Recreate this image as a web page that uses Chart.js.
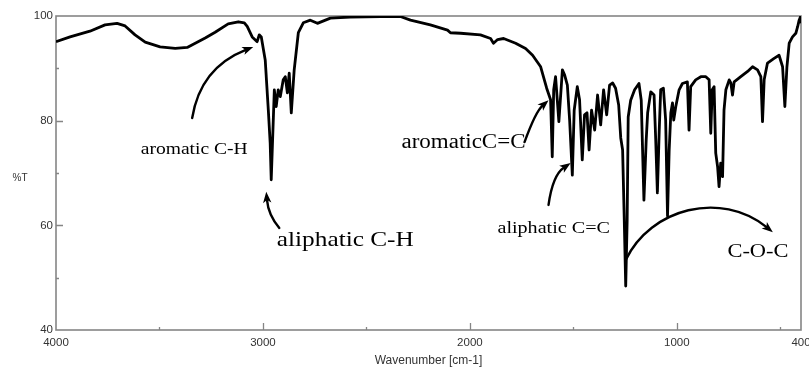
<!DOCTYPE html>
<html><head><meta charset="utf-8">
<script src="https://cdn.jsdelivr.net/npm/chart.js@4/dist/chart.umd.min.js"></script>
<style>html,body{margin:0;padding:0;background:#fff;overflow:hidden;}canvas{display:block;}</style>
</head><body>
<canvas id="c" width="809" height="371"></canvas>
<script>
// ---- data ----
const wavenumbers = [4000,3932,3836,3763,3705,3666,3618,3569,3497,3424,
 3366,3318,3279,3231,3168,3119,3090,3076,3052,3028,
 3018,3008,2989,2974,2965,2960,2955,2945,2936,2926,
 2916,2902,2892,2882,2873,2863,2849,2829,2805,2771,
 2737,2674,2578,2432,2336,2287,2191,2108,2094,2045,
 1949,1900,1886,1866,1837,1779,1731,1697,1658,1629,
 1610,1602,1595,1586,1570,1553,1542,1529,1518,1505,
 1496,1481,1470,1457,1446,1434,1424,1412,1397,1383,
 1368,1354,1339,1325,1310,1296,1281,1271,1262,1254,
 1247,1240,1235,1223,1204,1183,1172,1159,1148,1141,
 1126,1110,1102,1094,1085,1078,1065,1054,1045,1037,
 1029,1021,1015,1005,989,973,949,941,933,909,
 884,860,844,836,829,820,812,803,796,788,
 779,772,763,747,739,731,723,691,658,634,
 610,594,586,578,562,530,506,489,478,468,
 457,441,425,416,409,402,400];
const transmittance = [95.1,96.0,97.1,98.3,98.6,98.1,96.4,95.0,94.1,93.8,
 94.0,95.0,95.8,96.9,98.5,98.9,98.7,98.0,96.0,95.1,
 96.4,96.0,91.6,82.0,75.7,68.7,74.4,85.9,82.7,85.9,
 84.6,87.8,88.4,85.3,89.1,81.5,89.7,96.8,98.7,99.2,
 98.6,99.6,99.8,99.9,99.9,99.2,98.3,97.3,96.8,96.7,
 96.4,95.7,94.8,95.5,95.7,94.8,93.8,92.5,90.3,86.2,
 84.0,73.1,85.9,88.4,79.8,89.7,88.7,86.8,80.1,69.6,
 82.0,86.5,84.0,72.5,81.1,81.5,74.4,82.0,78.2,84.9,
 79.2,85.9,81.1,86.8,87.2,86.2,83.0,76.7,74.4,61.0,
 48.4,61.0,80.7,83.9,85.9,87.1,83.9,64.8,76.3,81.5,
 85.5,84.9,76.3,66.2,78.2,85.9,86.2,80.1,61.8,74.4,
 81.5,83.4,80.1,82.7,85.9,87.1,87.4,78.2,86.5,87.8,
 88.4,88.4,87.8,77.6,85.9,86.5,73.8,71.2,67.4,71.9,
 69.3,82.0,85.9,87.8,87.2,84.9,87.4,88.4,89.4,90.3,
 89.7,88.4,79.8,87.8,91.0,91.9,92.5,90.3,82.7,90.3,
 94.8,96.0,96.7,98.0,99.2,99.9,98.6];

const xTickValues = [4000,3500,3000,2500,2000,1500,1000,500,400];
const xTickLabels = {4000:'4000',3000:'3000',2000:'2000',1000:'1000',400:'400'};
const yTickValues = [40,50,60,70,80,90,100];
const yTickLabels = {40:'40',60:'60',80:'80',100:'100'};
const xTitle = 'Wavenumber [cm-1]';
const yTitle = '%T';

// annotations (anchored in data units: wavenumber, %T)
const annotationLabels = ['aromatic C-H','aliphatic C-H','aromaticC=C','aliphatic C=C','C-O-C'];
const annotationAt = [[3332,74.4],[2602,57.2],[2031,75.7],[1595,59.5],[608,55.0]];
const annotationSize = [17,22,20,17.5,19.5];
const arrowPaths = [
  [[3342,80.5],[3303,90.1],[3047,94.1]],
  [[2921,59.5],[2974,62.0],[2984,66.4]],
  [[1736,75.9],[1683,81.7],[1620,83.9]],
  [[1620,63.9],[1600,69.6],[1513,71.9]],
  [[1247,53.4],[1126,63.3],[788,66.7],[536,58.7]]
];

const points = wavenumbers.map((w,i)=>({x:w,y:transmittance[i]}));

const frameColor = '#858585';
const labelColor = '#333';
const sansFont = "'Liberation Sans', Arial, sans-serif";
const serifFont = "'Liberation Serif', 'Times New Roman', serif";

const framePlugin = {
  id:'frame',
  beforeDatasetsDraw(chart){
    const {ctx, chartArea:a, scales:{x,y}} = chart;
    ctx.save();
    ctx.strokeStyle = frameColor;
    ctx.lineWidth = 1.6;
    ctx.strokeRect(a.left, a.top, a.right-a.left, a.bottom-a.top);
    ctx.beginPath();
    xTickValues.forEach(v=>{
      if (v===4000 || v===400) return;
      const len = xTickLabels[v] ? 7 : 3;
      const X = Math.round(x.getPixelForValue(v))+0.5;
      ctx.moveTo(X, a.bottom); ctx.lineTo(X, a.bottom-len);
    });
    yTickValues.forEach(v=>{
      if (v===40 || v===100) return;
      const len = yTickLabels[v] ? 7 : 3;
      const Y = Math.round(y.getPixelForValue(v))+0.5;
      ctx.moveTo(a.left, Y); ctx.lineTo(a.left+len, Y);
    });
    ctx.lineWidth = 1.3;
    ctx.stroke();
    // axis titles
    ctx.fillStyle = labelColor;
    ctx.font = "10px " + sansFont;
    ctx.textAlign='center'; ctx.textBaseline='middle';
    ctx.fillText(yTitle, 20, (a.top+a.bottom)/2 + 5);
    ctx.font = "12px " + sansFont;
    ctx.fillText(xTitle, (a.left+a.right)/2, 361);
    ctx.restore();
  }
};

function drawHead(ctx, from, tip){
  const ang = Math.atan2(tip[1]-from[1], tip[0]-from[0]);
  const L = 11, H = 4.2;
  ctx.beginPath();
  ctx.moveTo(tip[0], tip[1]);
  ctx.lineTo(tip[0]-L*Math.cos(ang)+H*Math.sin(ang), tip[1]-L*Math.sin(ang)-H*Math.cos(ang));
  ctx.lineTo(tip[0]-L*0.75*Math.cos(ang), tip[1]-L*0.75*Math.sin(ang));
  ctx.lineTo(tip[0]-L*Math.cos(ang)-H*Math.sin(ang), tip[1]-L*Math.sin(ang)+H*Math.cos(ang));
  ctx.closePath();
  ctx.fill();
}

const annoPlugin = {
  id:'anno',
  afterDraw(chart){
    const {ctx, scales:{x,y}} = chart;
    const P = p => [x.getPixelForValue(p[0]), y.getPixelForValue(p[1])];
    ctx.save();
    ctx.fillStyle = '#000';
    ctx.strokeStyle = '#000';
    annotationLabels.forEach((t,i)=>{
      const [px,py] = P(annotationAt[i]);
      ctx.save();
      ctx.translate(px,py);
      ctx.scale(1.15,1);
      ctx.font = annotationSize[i] + "px " + serifFont;
      ctx.textAlign='center'; ctx.textBaseline='middle';
      ctx.fillText(t,0,0);
      ctx.restore();
    });
    ctx.lineWidth = 2.4;
    ctx.lineCap = 'round';
    arrowPaths.forEach(path=>{
      const pts = path.map(P);
      const tip = pts[pts.length-1], prev = pts[pts.length-2];
      const ang = Math.atan2(tip[1]-prev[1], tip[0]-prev[0]);
      const end = [tip[0]-8*Math.cos(ang), tip[1]-8*Math.sin(ang)];
      ctx.beginPath();
      ctx.moveTo(pts[0][0], pts[0][1]);
      if (pts.length===3) ctx.quadraticCurveTo(pts[1][0],pts[1][1],end[0],end[1]);
      else ctx.bezierCurveTo(pts[1][0],pts[1][1],pts[2][0],pts[2][1],end[0],end[1]);
      ctx.stroke();
      drawHead(ctx, prev, tip);
    });
    ctx.restore();
  }
};

new Chart(document.getElementById('c'), {
  type:'scatter',
  data:{datasets:[{data:points, showLine:true, borderColor:'#000', borderWidth:2.8,
    pointRadius:0, tension:0, fill:false, borderJoinStyle:'round'}]},
  options:{
    responsive:false, animation:false, devicePixelRatio:1,
    layout:{padding:{top:16,right:8,left:0,bottom:0}},
    plugins:{legend:{display:false}, tooltip:{enabled:false}},
    scales:{
      x:{type:'linear', min:400, max:4000, reverse:true,
        afterBuildTicks:s=>{s.ticks = xTickValues.map(v=>({value:v}));},
        afterFit:s=>{s.height=41; s.paddingLeft=0; s.paddingRight=0;},
        grid:{display:false, drawTicks:false}, border:{display:false},
        ticks:{autoSkip:false, maxRotation:0, padding:6, color:labelColor,
          font:{family:sansFont, size:11.5}, callback:v=>xTickLabels[v] || ''}},
      y:{min:40, max:100,
        afterBuildTicks:s=>{s.ticks = yTickValues.map(v=>({value:v}));},
        afterFit:s=>{s.width=56; s.paddingTop=0; s.paddingBottom=0;},
        grid:{display:false, drawTicks:false}, border:{display:false},
        ticks:{autoSkip:false, padding:3, color:labelColor,
          font:{family:sansFont, size:11.5}, callback:v=>yTickLabels[v] || ''}}
    }
  },
  plugins:[framePlugin, annoPlugin]
});
</script>
</body></html>
